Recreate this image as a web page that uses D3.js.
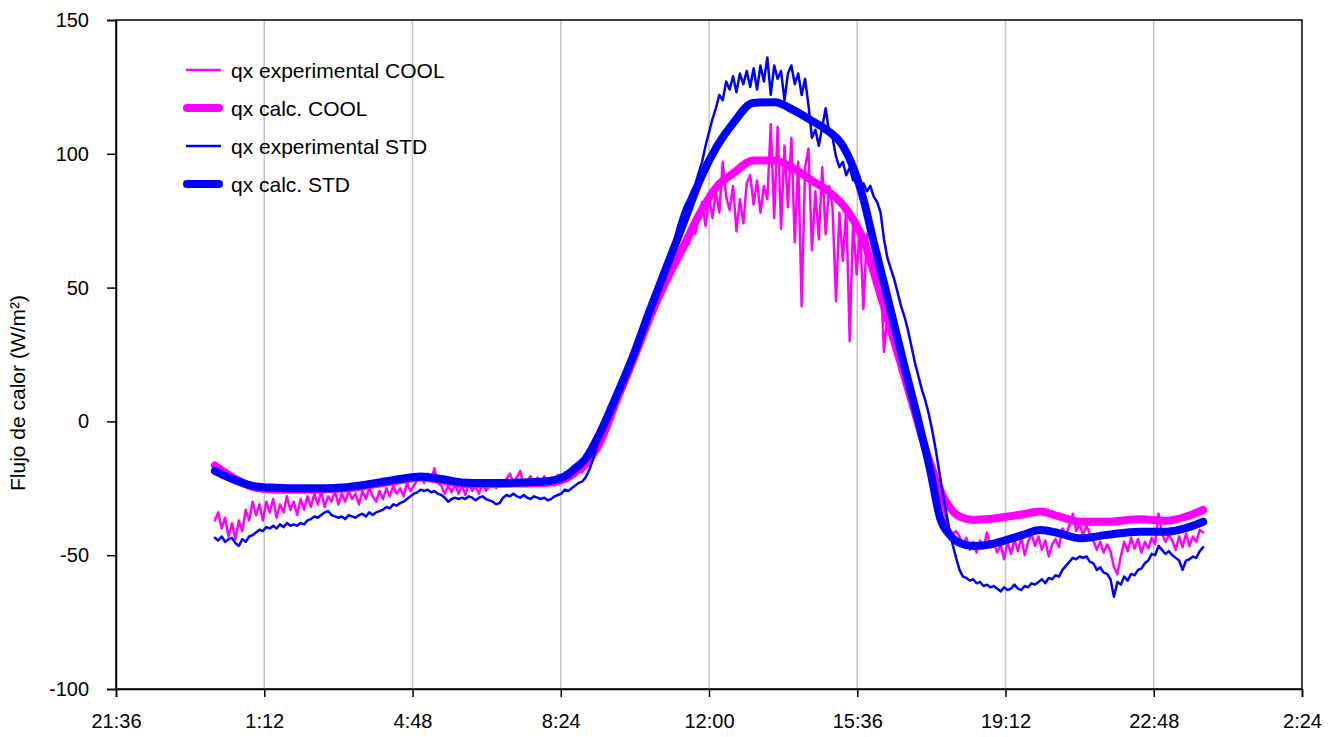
<!DOCTYPE html>
<html><head><meta charset="utf-8">
<script src="https://cdn.jsdelivr.net/npm/d3@7"></script>
<style>
body{margin:0;background:#fff}
svg{display:block}
text{font-family:"Liberation Sans",Arial,sans-serif;fill:#000}
</style>
</head><body>
<svg id="chart" width="1338" height="737"></svg>
<script>
// ---------- DATA ----------
const xTickLabels = ["21:36","1:12","4:48","8:24","12:00","15:36","19:12","22:48","2:24"];
const yTickValues = [-100, -50, 0, 50, 100, 150];
const seriesNames = ["qx experimental COOL", "qx calc. COOL", "qx experimental STD", "qx calc. STD"];
const yTitle = "Flujo de calor (W/m²)";

// experimental series: one value every 5 minutes from 0:00 to 24:00 (one row per hour)
const expStepMinutes = 5;
const expCOOL = [
  -37, -34, -40, -36, -43, -38, -44, -37, -41, -33, -37, -30,
  -35, -31, -37, -30, -34, -29, -36, -31, -34, -28, -33, -30,
  -35, -29, -33, -28, -32, -27, -31, -26, -32, -28, -30, -26,
  -31, -27, -30, -26, -29, -27, -31, -26, -29, -25, -28, -30,
  -26, -29, -25, -28, -24, -27, -25, -28, -23, -26, -24, -22,
  -21, -23, -19.5, -22, -17.5, -23, -24, -27, -24, -26.5, -23.5, -27,
  -24, -27.5, -23, -26, -24.5, -27, -23, -26, -24, -22, -25, -23,
  -24, -21.5, -19.5, -23, -21, -18.5, -24, -22, -20.5, -24, -21, -23,
  -20.5, -23.5, -21, -24, -20, -22.5, -19, -21.5, -18, -20.5, -17.5, -19,
  -17, -15, -12.5, -11, -7.5, -5.5, -2, 0, 4, 6, 11, 13,
  16, 21, 22, 27, 29, 34, 36, 41, 42, 47, 48.5, 53,
  52, 57, 58, 63, 62, 67, 66, 71, 70, 76, 82, 73,
  84, 76, 86, 78, 97, 84, 79, 88, 71, 83, 74, 89,
  92, 81, 90, 78, 88, 83, 111, 76, 110, 72, 103, 80,
  106, 67, 97, 43, 95, 102, 64, 86, 68, 95, 70, 88,
  80, 45, 78, 60, 80, 30, 75, 55, 72, 42, 70, 57,
  58, 50, 55, 26, 40, 36, 34, 27, 24, 17, 16, 9,
  5, -1, -3, -9, -12, -19, -21, -27, -31, -36, -40, -42,
  -41, -43, -46, -43.5, -48, -45, -49, -44.5, -47.5, -41.5, -47, -45.5,
  -49, -46, -51.5, -45, -49.5, -44, -48.5, -43.5, -50, -45, -42, -46.5,
  -43, -48, -44.5, -50.5, -46, -44, -47, -40, -42.5, -39, -34.5, -41,
  -38.5, -42.5, -39, -42, -44.5, -48, -45, -49, -46, -48.5, -54.5, -57,
  -50.5, -45, -48.5, -43.5, -47.5, -44, -49, -45, -47.5, -43.5, -46, -34.5,
  -42, -45, -42.5, -44.5, -48, -43, -47, -42, -46.5, -43, -45, -40.5,
  -41.5
];
const expSTD = [
  -43.5, -44.5, -43, -45, -44, -43.5, -45.5, -46.5, -44, -45, -43, -42.5,
  -41.5, -40.5, -41, -39.5, -40, -39, -40, -38.5, -39.5, -38, -39, -38.5,
  -39, -38, -38.5, -37, -36.5, -35.5, -36, -35, -34, -33.5, -35, -35.5,
  -36, -35.5, -36.5, -35, -35.5, -36, -35, -34.5, -35.5, -34, -35, -34,
  -33.5, -33, -32, -32.5, -31, -31.5, -30.5, -30, -29, -28, -27, -26.5,
  -25.5, -26, -25.5, -26.5, -26, -27, -27.5, -28.5, -30, -29, -28.5, -29,
  -28.5, -29, -28, -28.5, -29.5, -28.5, -28, -29, -29.5, -30, -31, -30.5,
  -28.5, -27.5, -28, -27, -28, -28.5, -27.5, -28.5, -29, -28, -28.5, -29,
  -28.5, -29.5, -29, -28, -27.5, -27, -25.5, -26, -25, -24, -23, -22.5,
  -21, -18.5, -15, -10.5, -6, -2.5, 0.5, 3.5, 7, 10, 13, 16,
  19, 21.5, 25, 28.5, 31.5, 35.5, 38.5, 42, 45, 49, 52.5, 56,
  60, 63.5, 68, 73, 77, 80.5, 83, 86, 88.5, 93, 97, 103,
  108, 113, 117, 122, 120, 127, 124, 129, 123, 130, 126, 131,
  125, 132, 124, 133, 127, 136, 122, 133, 128, 131, 120, 130,
  133, 126, 130, 122, 128, 118, 106, 109, 103, 110, 117, 108,
  106, 99, 95, 97, 92, 95, 90, 93, 88, 89, 86, 88,
  84, 82, 78, 68, 61, 57, 53, 48, 43, 39, 34, 28,
  22, 17, 12, 8, 3, -3, -10, -18, -26, -33, -40, -46,
  -51, -55.5, -58, -58.5, -59.5, -59, -60.5, -60, -61.5, -61, -62, -61.5,
  -62.5, -63.5, -62, -63, -62.5, -61, -62.5, -63, -61.5, -62, -60.5, -61,
  -60, -59, -60.5, -58.5, -59, -57.5, -58, -55.5, -54, -52.5, -51, -51.5,
  -50.5, -51, -50.5, -52.5, -53, -55.5, -54.5, -56.5, -57, -59, -65.5, -60,
  -61, -58, -59.5, -57, -57.5, -55.5, -55, -53, -52, -49.5, -50, -46.5,
  -48, -49.5, -48.5, -50, -51, -52, -55.5, -52, -51.5, -50.5, -51, -48.5,
  -47
];

// calculated series: hour of day and value
const calcCOOLHours = [0, 0.5, 1, 1.5, 2, 2.5, 3, 3.5, 4, 4.5, 5, 5.5, 6, 6.5, 7, 7.5, 8, 8.5, 8.75, 9, 9.35, 9.76, 10.16, 10.57, 10.97, 11.38, 11.78, 12.19, 12.59, 13.08, 13.6, 14.04, 14.5, 14.9, 15.3, 15.75, 16.15, 16.56, 16.96, 17.37, 17.69, 18.09, 18.42, 18.8, 19.23, 19.6, 20.04, 20.5, 21.01, 21.66, 22.46, 23.11, 23.6, 24.0];
const calcCOOLValues = [-16.5, -21.5, -24.8, -25.5, -25.5, -25.5, -25.2, -24.5, -23.2, -22, -21, -22, -23.3, -23.5, -23.3, -23.2, -23, -21.5, -19, -16, -8, 8, 22.9, 39.1, 52.8, 65.3, 77.8, 87.7, 92.7, 97.5, 97.5, 94.7, 90, 86, 80, 67.8, 48, 26.7, 5.5, -15.7, -28.1, -35.6, -36.8, -36.5, -35.6, -34.8, -33.7, -35.5, -37.5, -37.5, -36.6, -37.1, -35.5, -33.1];
const calcSTDHours = [0, 0.5, 1, 1.5, 2, 2.5, 3, 3.5, 4, 4.5, 5, 5.5, 6, 6.5, 7, 7.5, 8, 8.5, 8.75, 9, 9.35, 9.75, 10.15, 10.55, 10.97, 11.38, 11.78, 12.19, 12.59, 13.07, 13.6, 14.04, 14.53, 14.86, 15.25, 15.5, 15.75, 16.0, 16.31, 16.71, 17.12, 17.37, 17.61, 17.85, 18.1, 18.42, 18.8, 19.23, 19.6, 20.04, 20.5, 21.01, 21.66, 22.46, 23.11, 23.6, 24.0];
const calcSTDValues = [-18.5, -22, -24.3, -24.8, -25, -25, -24.8, -24, -22.8, -21.5, -20.6, -21.5, -22.8, -23, -23, -22.8, -22.5, -20.5, -17.5, -14, -4.4, 9.5, 24.2, 41, 57.8, 74, 90.2, 102.7, 111.5, 119, 119.3, 116.4, 112, 108.9, 103, 95, 83, 67, 48, 22.9, -2, -18.2, -36, -42.5, -45.5, -46.6, -46, -44.3, -42.5, -40.6, -41.8, -43.7, -42.4, -41.2, -41.2, -39.8, -37.5];

const colorCOOL = "#FF00FF";
const colorSTD = "#0000FF";

// ---------- LAYOUT ----------
const svg = d3.select("#chart");
const plot = {left: 116, right: 1302, top: 20, bottom: 689};
const TICK_FONT = 20;
const LABEL_FONT = 21;

// x in hours relative to 0:00 of the measured day (21:36 of previous day = -2.4)
const xTickHours = xTickLabels.map((_, i) => -2.4 + i * 3.6);
const x = d3.scaleLinear().domain([xTickHours[0], xTickHours[xTickHours.length - 1]]).range([plot.left, plot.right]);
const y = d3.scaleLinear().domain([-100, 150]).range([plot.bottom, plot.top]);

// gridlines
svg.append("g").selectAll("line")
  .data(xTickHours.slice(1, -1))
  .join("line")
  .attr("x1", d => x(d)).attr("x2", d => x(d))
  .attr("y1", plot.top).attr("y2", plot.bottom)
  .attr("stroke", "#c4c4c4").attr("stroke-width", 1.5);

// series
const expCOOLData = expCOOL.map((v, i) => ({t: i * expStepMinutes / 60, v}));
const expSTDData = expSTD.map((v, i) => ({t: i * expStepMinutes / 60, v}));
const calcCOOLData = calcCOOLHours.map((t, i) => ({t, v: calcCOOLValues[i]}));
const calcSTDData = calcSTDHours.map((t, i) => ({t, v: calcSTDValues[i]}));

const lineRaw = d3.line().x(d => x(d.t)).y(d => y(d.v));
const lineSmooth = d3.line().x(d => x(d.t)).y(d => y(d.v)).curve(d3.curveMonotoneX);

const series = [
  {name: seriesNames[0], data: expCOOLData, color: colorCOOL, width: 2.5, thick: false, gen: lineRaw},
  {name: seriesNames[1], data: calcCOOLData, color: colorCOOL, width: 8, thick: true, gen: lineSmooth},
  {name: seriesNames[2], data: expSTDData, color: colorSTD, width: 2.5, thick: false, gen: lineRaw},
  {name: seriesNames[3], data: calcSTDData, color: colorSTD, width: 8, thick: true, gen: lineSmooth}
];

svg.append("g").selectAll("path")
  .data(series)
  .join("path")
  .attr("d", s => s.gen(s.data))
  .attr("fill", "none")
  .attr("stroke", s => s.color)
  .attr("stroke-width", s => s.width)
  .attr("stroke-linejoin", "round")
  .attr("stroke-linecap", "round");

// frame
svg.append("rect")
  .attr("x", plot.left).attr("y", plot.top)
  .attr("width", plot.right - plot.left).attr("height", plot.bottom - plot.top)
  .attr("fill", "none").attr("stroke", "#000").attr("stroke-width", 1.5);

// axes
const xAxis = d3.axisBottom(x).tickValues(xTickHours).tickFormat((d, i) => xTickLabels[i])
  .tickSize(8).tickPadding(17);
const gx = svg.append("g").attr("transform", `translate(0,${plot.bottom})`).call(xAxis);
gx.select(".domain").attr("stroke-width", 1.5);
gx.selectAll(".tick line").attr("stroke-width", 1.5);
gx.selectAll("text").attr("font-size", TICK_FONT).style("font-family", '"Liberation Sans", Arial, sans-serif');

const yAxis = d3.axisLeft(y).tickValues(yTickValues).tickFormat(d => String(d))
  .tickSize(9).tickPadding(18);
const gy = svg.append("g").attr("transform", `translate(${plot.left},0)`).call(yAxis);
gy.select(".domain").attr("stroke-width", 1.5);
gy.selectAll(".tick line").attr("stroke-width", 1.5);
gy.selectAll("text").attr("font-size", TICK_FONT).style("font-family", '"Liberation Sans", Arial, sans-serif');

// y title
svg.append("text")
  .attr("transform", "translate(25,393) rotate(-90)")
  .attr("text-anchor", "middle")
  .attr("font-size", LABEL_FONT)
  .text(yTitle);

// legend
const legend = svg.append("g");
const legendItems = legend.selectAll("g").data(series).join("g")
  .attr("transform", (d, i) => `translate(0,${70 + i * 38})`);
legendItems.append("line")
  .attr("x1", d => d.thick ? 187 : 186).attr("x2", d => d.thick ? 219 : 221)
  .attr("y1", 0).attr("y2", 0)
  .attr("stroke", d => d.color)
  .attr("stroke-width", d => d.thick ? 8 : 2.5)
  .attr("stroke-linecap", d => d.thick ? "round" : "butt");
legendItems.append("text")
  .attr("x", 231).attr("y", 8)
  .attr("font-size", LABEL_FONT)
  .text(d => d.name);
</script>
</body></html>
